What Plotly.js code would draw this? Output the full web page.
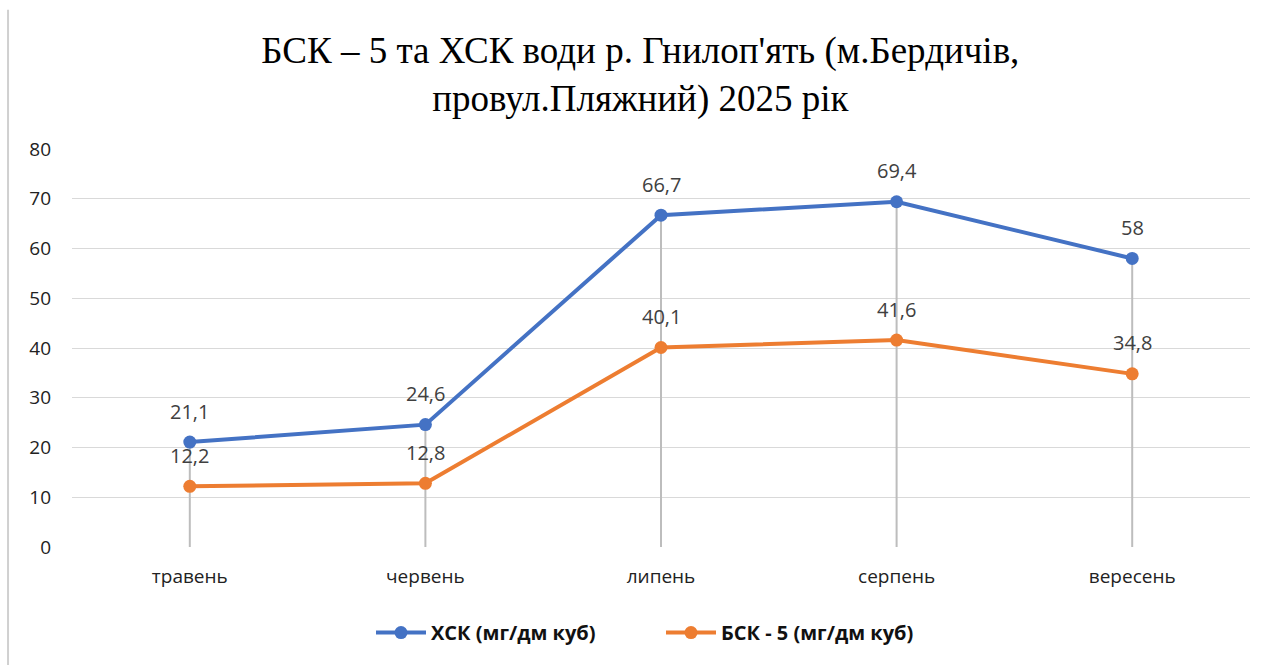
<!DOCTYPE html>
<html>
<head>
<meta charset="utf-8">
<script src="https://cdn.plot.ly/plotly-3.0.1.min.js"></script>
<style>
html,body{margin:0;padding:0;background:#fff;}
#chart{width:1268px;height:665px;}
</style>
</head>
<body>
<div id="chart"></div>
<script>
const months = ["травень", "червень", "липень", "серпень", "вересень"];
const hsk = [21.1, 24.6, 66.7, 69.4, 58];
const bsk5 = [12.2, 12.8, 40.1, 41.6, 34.8];
const seriesNames = ["ХСК (мг/дм куб)", "БСК - 5 (мг/дм куб)"];
const yTicks = [0, 10, 20, 30, 40, 50, 60, 70, 80];

const fmt = v => String(v).replace('.', ',');

// drop lines from highest point down to the axis
const dropX = [], dropY = [];
months.forEach((m, i) => {
  dropX.push(m, m, null);
  dropY.push(Math.max(hsk[i], bsk5[i]), 0, null);
});

const traces = [
  {
    x: dropX, y: dropY, mode: 'lines', type: 'scatter',
    line: {color: '#bdbdbd', width: 2},
    hoverinfo: 'skip', showlegend: false
  },
  {
    x: months, y: hsk, name: seriesNames[0], type: 'scatter',
    mode: 'lines+markers',
    line: {color: '#4472C4', width: 4},
    marker: {color: '#4472C4', size: 13}
  },
  {
    x: months, y: bsk5, name: seriesNames[1], type: 'scatter',
    mode: 'lines+markers',
    line: {color: '#ED7D31', width: 4},
    marker: {color: '#ED7D31', size: 13}
  }
];

const labelFont = {family: 'Open Sans, sans-serif', size: 20, color: '#404040'};
const annotations = [];
[hsk, bsk5].forEach(series => {
  series.forEach((v, i) => {
    annotations.push({
      x: months[i], y: v, xref: 'x', yref: 'y',
      text: fmt(v), showarrow: false, yshift: 31,
      font: labelFont
    });
  });
});

const layout = {
  width: 1268, height: 665,
  paper_bgcolor: '#ffffff', plot_bgcolor: '#ffffff',
  margin: {l: 72, r: 18, t: 149, b: 118},
  title: {
    text: "БСК – 5 та ХСК води р. Гнилоп'ять (м.Бердичів,<br>провул.Пляжний) 2025 рік",
    font: {family: 'Liberation Serif, Times New Roman, serif', size: 37, color: '#000'},
    x: 0.505, xanchor: 'center', y: 0.905, yanchor: 'middle'
  },
  font: {family: 'Open Sans, sans-serif', color: '#222'},
  xaxis: {
    type: 'category', categoryarray: months, range: [-0.5, 4.5],
    showgrid: false, zeroline: false, showline: false,
    ticks: '', tickfont: {size: 19, color: '#222'},
    ticklabelstandoff: 16, fixedrange: true
  },
  yaxis: {
    range: [0, 80], tickvals: yTicks,
    showgrid: true, gridcolor: '#d9d9d9', gridwidth: 1,
    zeroline: false, showline: false, ticks: '',
    tickfont: {size: 19, color: '#222'},
    ticklabelstandoff: 20, fixedrange: true
  },
  legend: {
    orientation: 'h', x: 0.5, xanchor: 'center', y: -0.215, yanchor: 'middle',
    font: {family: 'Open Sans, sans-serif', size: 20, color: '#111', weight: 'bold'},
    itemwidth: 50, traceorder: 'normal', entrywidth: 225
  },
  annotations: annotations,
  shapes: [
    {type: 'line', xref: 'paper', yref: 'paper', x0: -0.0543, x1: -0.0543, y0: -0.3, y1: 1.35,
     line: {color: '#d0d0d0', width: 2}}
  ],
  showlegend: true
};

Plotly.newPlot('chart', traces, layout, {displayModeBar: false, staticPlot: true});
</script>
</body>
</html>
